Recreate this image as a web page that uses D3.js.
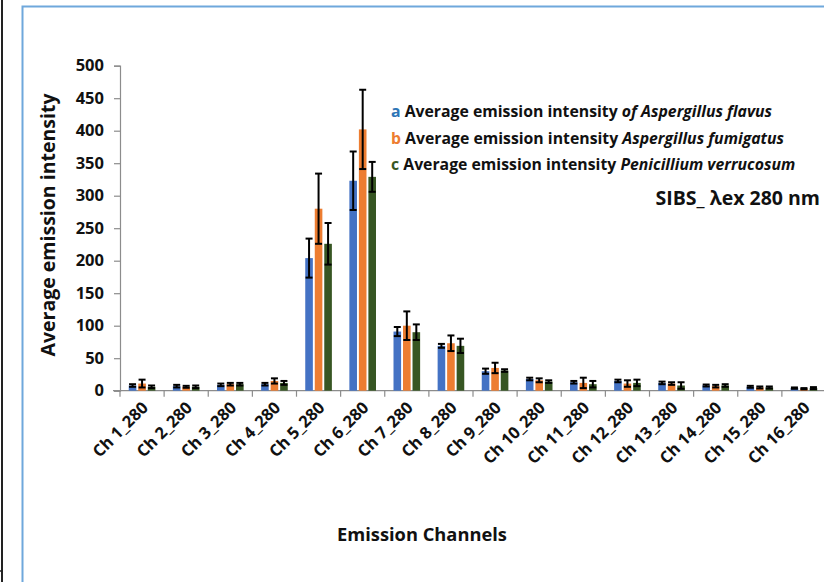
<!DOCTYPE html>
<html><head><meta charset="utf-8">
<script src="https://cdn.jsdelivr.net/npm/d3@7"></script>
<style>
html,body{margin:0;padding:0;background:#fff;overflow:hidden;}
text{font-family:"Open Sans",Lato,sans-serif;font-weight:bold;}
</style></head>
<body><svg id="c" width="824" height="582"></svg>
<script>
const categories = ["Ch 1_280","Ch 2_280","Ch 3_280","Ch 4_280","Ch 5_280","Ch 6_280","Ch 7_280","Ch 8_280","Ch 9_280","Ch 10_280","Ch 11_280","Ch 12_280","Ch 13_280","Ch 14_280","Ch 15_280","Ch 16_280"];
const flavus        = [8, 7, 9, 10, 204, 323, 91, 69, 30, 18, 13, 15, 12, 8, 6, 4];
const flavusErr     = [2, 2, 2, 2, 30, 45, 7, 3, 4, 2, 2, 2, 2, 1.5, 1.5, 1];
const fumigatus     = [11, 6, 10, 15, 280, 402, 100, 73, 35, 16, 12, 11, 11, 7, 5, 3];
const fumigatusErr  = [6, 1.5, 2, 4, 54, 61, 22, 12, 8, 3, 8, 5, 2, 2, 1.5, 1];
const verrucosum    = [6, 6, 10, 12, 226, 329, 90, 69, 31, 14, 10, 12, 8, 8, 5, 4];
const verrucosumErr = [2, 2, 2, 3, 32, 23, 12, 11, 2, 2, 5, 5, 5, 2, 1.5, 1.5];
const seriesKeys = ["a","b","c"];
const seriesColors = ["#4472C4","#ED7D31","#375623"];
const legendColors = ["#2E75B6","#ED7D31","#375623"];
const yTicks = [0,50,100,150,200,250,300,350,400,450,500];

const series = [
  {key:"a", values:flavus, errs:flavusErr},
  {key:"b", values:fumigatus, errs:fumigatusErr},
  {key:"c", values:verrucosum, errs:verrucosumErr}
];

const svg = d3.select("#c");
// frame lines
svg.append("line").attr("x1",2).attr("x2",2).attr("y1",0).attr("y2",582).attr("stroke","#222").attr("stroke-width",2);
svg.append("line").attr("x1",0).attr("x2",3).attr("y1",571).attr("y2",571).attr("stroke","#222").attr("stroke-width",1.5);
svg.append("rect").attr("x",22.5).attr("y",6.5).attr("width",900).attr("height",700)
  .attr("fill","none").attr("stroke","#6FA8DC").attr("stroke-width",2);

const x0 = d3.scaleBand().domain(categories).range([120, 826]).paddingInner(0).paddingOuter(0);
const x1 = d3.scaleBand().domain(seriesKeys).range([0, x0.bandwidth()]).paddingInner(0.2).paddingOuter(0.92);
const y = d3.scaleLinear().domain([0,500]).range([390.7, 65.7]);

// y axis
const yAxis = svg.append("g").attr("transform","translate(120,0)")
  .call(d3.axisLeft(y).tickValues(yTicks).tickSize(6).tickPadding(10));
yAxis.select(".domain").attr("stroke","#8c8c8c").attr("stroke-width",1.2);
yAxis.selectAll(".tick line").attr("stroke","#8c8c8c").attr("stroke-width",1.2);
yAxis.selectAll(".tick text").attr("fill","#111").style("font-size","16.5px").style("font-family","'Open Sans'").style("font-weight","bold");

// x axis
const xAxisG = svg.append("g");
xAxisG.append("line").attr("x1",113).attr("x2",826).attr("y1",y(0)).attr("y2",y(0)).attr("stroke","#8c8c8c").attr("stroke-width",1.2);
xAxisG.selectAll("line.xt").data(categories).enter().append("line")
  .attr("x1",d=>x0(d)).attr("x2",d=>x0(d)).attr("y1",y(0)).attr("y2",y(0)+6)
  .attr("stroke","#8c8c8c").attr("stroke-width",1.2);
xAxisG.selectAll("text.xl").data(categories).enter().append("text")
  .attr("transform",d=>`translate(${x0(d)+x0.bandwidth()/2+7},${y(0)+18}) rotate(-45)`)
  .attr("text-anchor","end").attr("fill","#111").style("font-size","16.5px")
  .text(d=>d);

// bars
const groups = svg.append("g").selectAll("g").data(series).enter().append("g");
groups.selectAll("rect").data((s,si)=>s.values.map((v,i)=>({cat:categories[i],v,e:s.errs[i],k:s.key,si})))
  .enter().append("rect")
  .attr("x",d=>x0(d.cat)+x1(d.k)).attr("width",x1.bandwidth())
  .attr("y",d=>y(d.v)).attr("height",d=>y(0)-y(d.v))
  .attr("fill",d=>seriesColors[d.si]);

// error bars
const eb = svg.append("g");
series.forEach((s,si)=>{
  s.values.forEach((v,i)=>{
    const cx = x0(categories[i])+x1(s.key)+x1.bandwidth()/2;
    const yt = y(v+s.errs[i]), yb = y(Math.max(0,v-s.errs[i]));
    eb.append("line").attr("x1",cx).attr("x2",cx).attr("y1",yt).attr("y2",yb).attr("stroke","#000").attr("stroke-width",2);
    [yt,yb].forEach(yy=>eb.append("line").attr("x1",cx-3.5).attr("x2",cx+3.5).attr("y1",yy).attr("y2",yy).attr("stroke","#000").attr("stroke-width",2));
  });
});

// axis titles
svg.append("text").attr("transform","translate(55,225) rotate(-90)").attr("text-anchor","middle")
  .attr("fill","#111").style("font-size","19.5px").text("Average emission intensity");
svg.append("text").attr("x",422).attr("y",541).attr("text-anchor","middle")
  .attr("fill","#111").style("font-size","18.3px").text("Emission Channels");

// legend
const legendItems = [
  {pre:" Average emission intensity ", it:"of Aspergillus flavus"},
  {pre:" Average emission intensity ", it:"Aspergillus fumigatus"},
  {pre:" Average emission intensity ", it:"Penicillium verrucosum"}
];
legendItems.forEach((li,i)=>{
  const t = svg.append("text").attr("x",391).attr("y",117+i*26.5).attr("fill","#111").style("font-size","15.8px");
  t.append("tspan").attr("fill",legendColors[i]).text(seriesKeys[i]);
  t.append("tspan").text(li.pre);
  t.append("tspan").style("font-style","italic").text(li.it);
});
svg.append("text").attr("x",820).attr("y",205).attr("text-anchor","end").attr("fill","#111").style("font-size","19.5px").text("SIBS_ \u03bbex 280 nm");
</script></body></html>
